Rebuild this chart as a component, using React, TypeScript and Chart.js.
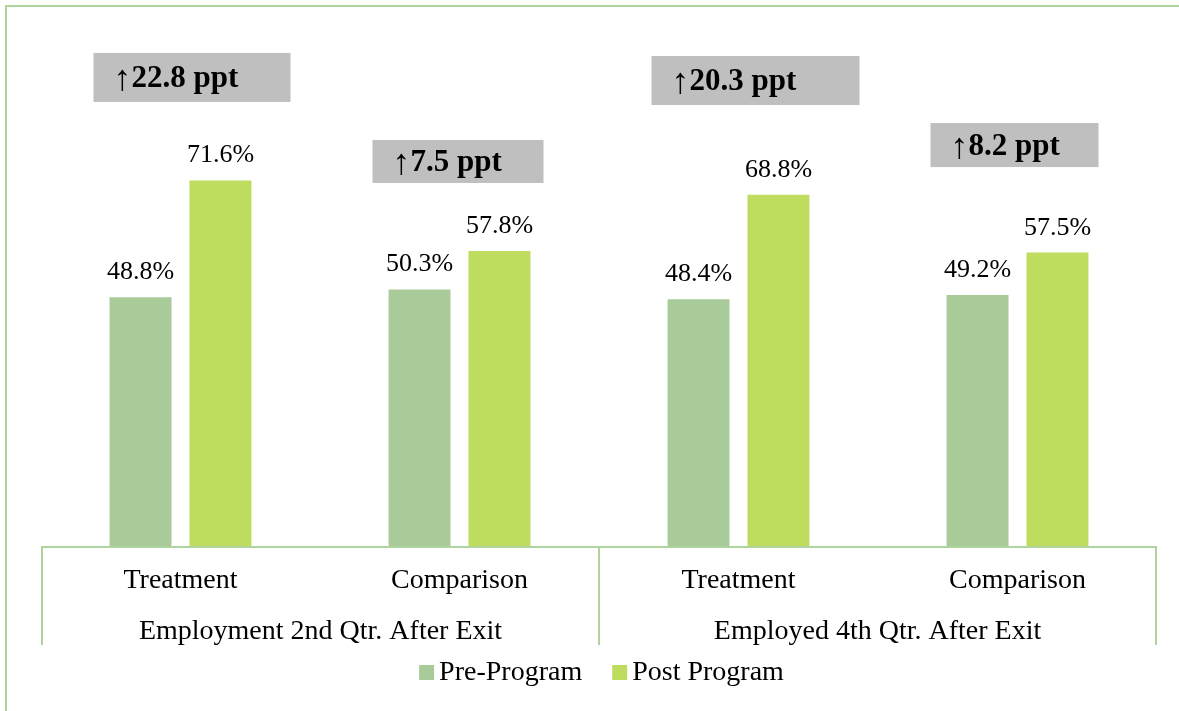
import React, { useEffect, useRef } from 'react';
import { Chart, registerables } from 'chart.js';

Chart.register(...registerables);

// ---- Data ----
const categories = ['Treatment', 'Comparison', 'Treatment', 'Comparison'];
const groupLabels = ['Employment 2nd Qtr. After Exit', 'Employed 4th Qtr. After Exit'];
const seriesNames = ['Pre-Program', 'Post Program'];
const preProgram = [48.8, 50.3, 48.4, 49.2];
const postProgram = [71.6, 57.8, 68.8, 57.5];
const changeLabels = ['22.8 ppt', '7.5 ppt', '20.3 ppt', '8.2 ppt'];

// ---- Styles / layout ----
const FONT = '"Liberation Serif", "Times New Roman", serif';
const PRE_COLOR = '#A9CA99';
const POST_COLOR = '#BEDC5E';
const LINE_COLOR = '#B0D49E';
const BOX_COLOR = '#BFBFBF';
// annotation boxes: top in data units, size in px
const boxLayout = [
  { top: 96.5, width: 197, height: 49 },
  { top: 79.5, width: 171, height: 43 },
  { top: 95.9, width: 208, height: 49 },
  { top: 82.8, width: 168, height: 44 },
];

const decorPlugin = {
  id: 'decor',
  beforeDraw(chart: any) {
    const { ctx, width, height } = chart;
    ctx.save();
    ctx.strokeStyle = LINE_COLOR;
    ctx.lineWidth = 2;
    ctx.beginPath();
    ctx.moveTo(6, height);
    ctx.lineTo(6, 6);
    ctx.lineTo(width, 6);
    ctx.stroke();
    ctx.restore();
  },
  afterDatasetsDraw(chart: any) {
    const { ctx } = chart;
    const xScale = chart.scales.x;
    const yScale = chart.scales.y;
    ctx.save();
    // value labels
    ctx.font = `26px ${FONT}`;
    ctx.fillStyle = '#000';
    ctx.textAlign = 'center';
    ctx.textBaseline = 'alphabetic';
    chart.data.datasets.forEach((ds: any, di: number) => {
      const meta = chart.getDatasetMeta(di);
      meta.data.forEach((bar: any, i: number) => {
        ctx.fillText(ds.data[i].toFixed(1) + '%', bar.x, bar.y - 18);
      });
    });
    // change annotation boxes
    changeLabels.forEach((label, i) => {
      const lay = boxLayout[i];
      const cx = xScale.getPixelForValue(i);
      const left = cx - 87;
      const top = yScale.getPixelForValue(lay.top);
      ctx.fillStyle = BOX_COLOR;
      ctx.fillRect(left, top, lay.width, lay.height);
      const midY = top + lay.height / 2;
      ctx.fillStyle = '#000';
      ctx.textAlign = 'left';
      ctx.textBaseline = 'alphabetic';
      ctx.font = `36px ${FONT}`;
      const arrow = '\u2191';
      ctx.fillText(arrow, left + 20, midY + 13);
      const aw = ctx.measureText(arrow).width;
      ctx.font = `bold 31px ${FONT}`;
      ctx.fillText(label, left + 20 + aw, midY + 10);
    });
    ctx.restore();
  },
  afterDraw(chart: any) {
    const { ctx, chartArea } = chart;
    const xScale = chart.scales.x;
    const { left, right, bottom } = chartArea;
    ctx.save();
    ctx.strokeStyle = LINE_COLOR;
    ctx.lineWidth = 2;
    // axis line
    ctx.beginPath();
    ctx.moveTo(left + 1, bottom);
    ctx.lineTo(right - 1, bottom);
    ctx.stroke();
    // group separators
    const mid = (xScale.getPixelForValue(1) + xScale.getPixelForValue(2)) / 2;
    const seps = [left + 1, mid, right - 1];
    const sepBottom = bottom + 98;
    seps.forEach((sx) => {
      ctx.beginPath();
      ctx.moveTo(sx, bottom - 1);
      ctx.lineTo(sx, sepBottom);
      ctx.stroke();
    });
    // group labels
    ctx.fillStyle = '#000';
    ctx.font = `28px ${FONT}`;
    ctx.textAlign = 'center';
    ctx.textBaseline = 'alphabetic';
    groupLabels.forEach((g, gi) => {
      const gx = (seps[gi] + seps[gi + 1]) / 2;
      ctx.fillText(g, gx, bottom + 92);
    });
    // legend
    const sq = 15;
    const gap = 5;
    const itemGap = 30;
    const widths = chart.data.datasets.map((ds: any) => ctx.measureText(ds.label).width);
    const total = widths.reduce((a: number, w: number) => a + sq + gap + w, 0) + itemGap * (widths.length - 1);
    let lx = (left + right) / 2 + 2.5 - total / 2;
    const baseY = bottom + 133;
    ctx.textAlign = 'left';
    chart.data.datasets.forEach((ds: any, di: number) => {
      ctx.fillStyle = ds.backgroundColor;
      ctx.fillRect(lx, baseY - 15, sq, sq);
      ctx.fillStyle = '#000';
      ctx.fillText(ds.label, lx + sq + gap, baseY);
      lx += sq + gap + widths[di] + itemGap;
    });
    ctx.restore();
  },
};

export default function App() {
  const canvasRef = useRef<HTMLCanvasElement | null>(null);

  useEffect(() => {
    if (!canvasRef.current) return;
    const chart = new Chart(canvasRef.current, {
      type: 'bar',
      data: {
        labels: categories,
        datasets: [
          {
            label: seriesNames[0],
            data: preProgram,
            backgroundColor: PRE_COLOR,
            categoryPercentage: 0.573,
            barPercentage: 0.775,
          },
          {
            label: seriesNames[1],
            data: postProgram,
            backgroundColor: POST_COLOR,
            categoryPercentage: 0.573,
            barPercentage: 0.775,
          },
        ],
      },
      options: {
        responsive: false,
        animation: false,
        layout: { padding: { top: 35, left: 41, right: 22, bottom: 64 } },
        plugins: {
          legend: { display: false },
          tooltip: { enabled: false },
        },
        scales: {
          x: {
            grid: { display: false, drawTicks: false },
            border: { display: false },
            ticks: {
              color: '#000',
              font: { family: FONT, size: 28 },
              padding: 17,
              maxRotation: 0,
              autoSkip: false,
            },
            afterFit(scale: any) {
              scale.height = 100;
            },
          },
          y: {
            display: false,
            min: 0,
            max: 100,
          },
        },
      },
      plugins: [decorPlugin],
    });
    return () => chart.destroy();
  }, []);

  return (
    <div style={{ position: 'absolute', left: 0, top: 0, width: 1179, height: 711, background: '#fff' }}>
      <canvas ref={canvasRef} width={1179} height={711} style={{ display: 'block' }} />
    </div>
  );
}
